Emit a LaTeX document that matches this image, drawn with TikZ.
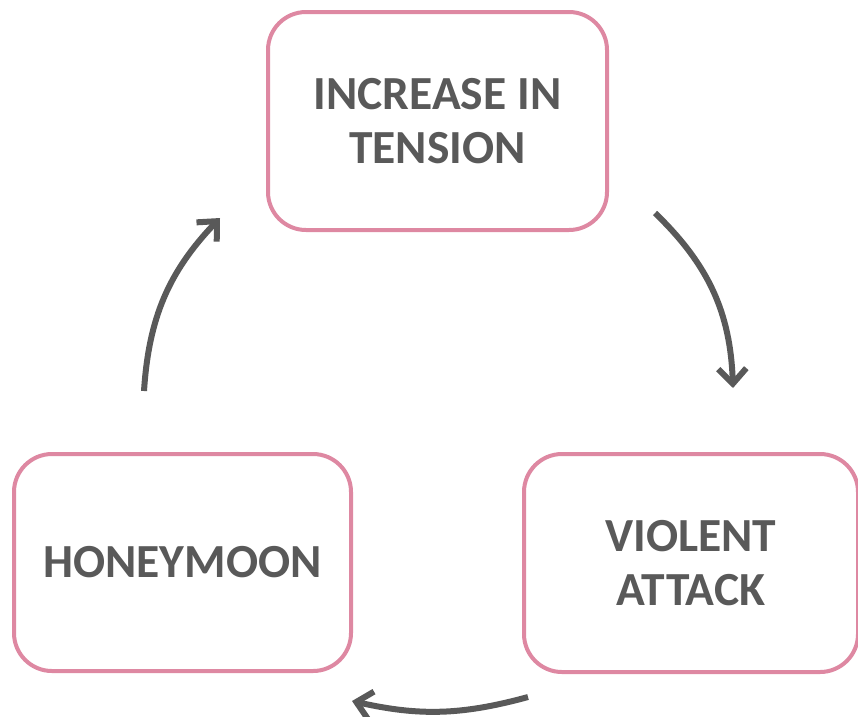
\documentclass[tikz,border=0pt]{standalone}
\usepackage{fontspec}
\setmainfont{Carlito}
\usetikzlibrary{arrows.meta}
\definecolor{boxpink}{RGB}{222,136,162}
\definecolor{inkgray}{RGB}{89,89,89}
\tikzset{
  stagebox/.style={draw=boxpink, line width=4pt, rounded corners=38pt, fill=white,
    align=center, text=inkgray, inner sep=0pt,
    font=\fontsize{47.5}{54}\selectfont\bfseries},
  cyclearrow/.style={draw=inkgray, line width=6pt,
    -{Straight Barb[length=15pt,width=28pt,line width=6pt]}}
}
\begin{document}
\begin{tikzpicture}[x=1pt,y=-1pt]
\useasboundingbox (0,0) rectangle (858,716);
% the three stages of the cycle
\node[stagebox, minimum width=339pt, minimum height=218pt] (tension) at (437.5,121) {INCREASE IN\\TENSION};
\node[stagebox, minimum width=334pt, minimum height=218pt] (attack) at (691,563) {VIOLENT\\ATTACK};
\node[stagebox, minimum width=337pt, minimum height=217pt] (honey) at (182.5,562.5) {HONEYMOON};
% arrow end points between the stages
\coordinate (a1) at (655,213);
\coordinate (b1) at (733,388);
\coordinate (a2) at (528,697);
\coordinate (b2) at (352,701);
\coordinate (a3) at (144,391);
\coordinate (b3) at (220,218);
\draw[cyclearrow] (a1) to[bend left=22] (b1);
\draw[cyclearrow] (a2) to[bend left=14] (b2);
\draw[cyclearrow] (a3) to[bend left=20] (b3);
\end{tikzpicture}
\end{document}
